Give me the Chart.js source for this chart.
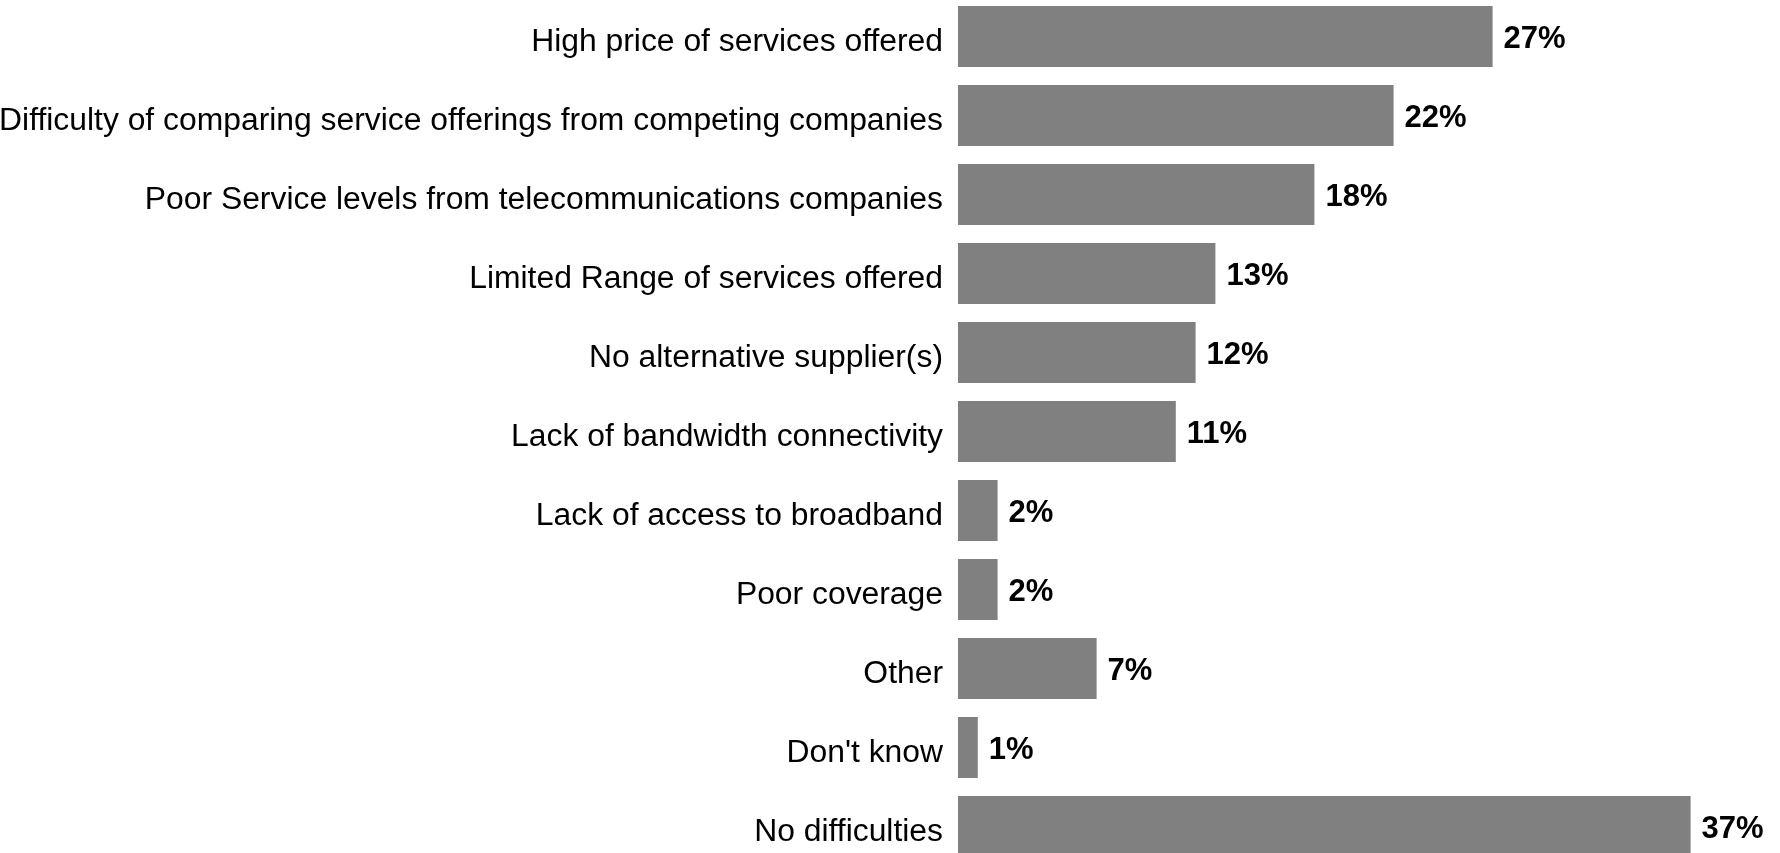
<!DOCTYPE html>
<html>
<head>
<meta charset="utf-8">
<title>Difficulties with telecommunications services</title>
<script src="https://cdn.jsdelivr.net/npm/chart.js@4.4.1/dist/chart.umd.min.js"></script>
<style>
  html, body { margin: 0; padding: 0; background: #fff; overflow: hidden; }
  #wrap { position: absolute; left: 0; top: -3px; width: 1780px; height: 869px; }
</style>
</head>
<body>
<div id="wrap"><canvas id="difficultyChart"></canvas></div>
<script>
const categories = [
  'High price of services offered',
  'Difficulty of comparing service offerings from competing companies',
  'Poor Service levels from telecommunications companies',
  'Limited Range of services offered',
  'No alternative supplier(s)',
  'Lack of bandwidth connectivity',
  'Lack of access to broadband',
  'Poor coverage',
  'Other',
  "Don't know",
  'No difficulties',
]
const shares = [27, 22, 18, 13, 12, 11, 2, 2, 7, 1, 37]

const FONT = "'Liberation Sans', Arial, sans-serif"

// writes "NN%" just past the end of each bar
const valueLabels = {
  id: 'valueLabels',
  afterDatasetsDraw(chart) {
    const ctx = chart.ctx
    const meta = chart.getDatasetMeta(0)
    ctx.save()
    ctx.font = `bold 31px ${FONT}`
    ctx.fillStyle = '#000'
    ctx.textAlign = 'left'
    ctx.textBaseline = 'alphabetic'
    meta.data.forEach((bar, i) => {
      ctx.fillText(`${shares[i]}%`, bar.x + 11, bar.y + 11.5)
    })
    ctx.restore()
  },
}

document.addEventListener('DOMContentLoaded', () => {
  const ctx = document.getElementById('difficultyChart').getContext('2d')
  new Chart(ctx, {
    type: 'bar',
    data: {
      labels: categories,
      datasets: [
        {
          data: shares,
          backgroundColor: '#808080',
          borderWidth: 0,
          barPercentage: 0.77,
          categoryPercentage: 1,
        },
      ],
    },
    options: {
      indexAxis: 'y',
      responsive: true,
      maintainAspectRatio: false,
      animation: false,
      layout: { padding: { left: 0, right: 30, top: 0, bottom: 0 } },
      plugins: {
        legend: { display: false },
        tooltip: { enabled: false },
      },
      scales: {
        x: {
          display: false,
          min: 0,
          max: 40,
        },
        y: {
          grid: { display: false, drawTicks: false },
          border: { display: false },
          ticks: {
            color: '#000',
            padding: 15,
            labelOffset: 6,
            autoSkip: false,
            font: { family: FONT, size: 31.85 },
          },
          afterFit(scale) {
            // fixed label column, and let the bars run to the canvas edges
            scale.width = 958
            scale.paddingTop = 0
            scale.paddingBottom = 0
          },
        },
      },
    },
    plugins: [valueLabels],
  })
})
</script>
</body>
</html>
